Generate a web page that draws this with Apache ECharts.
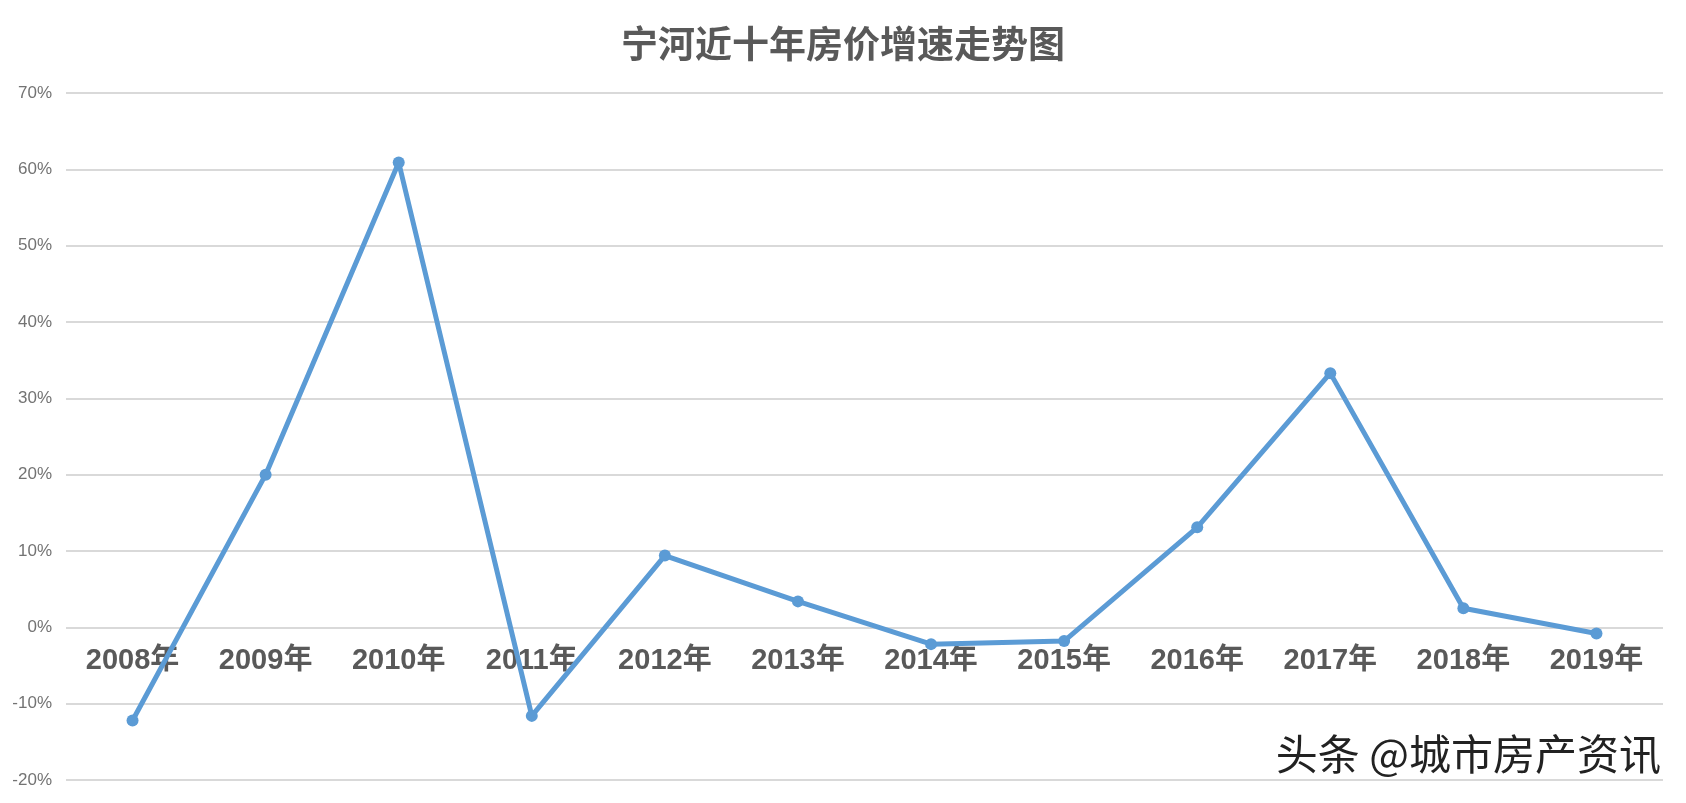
<!DOCTYPE html>
<html>
<head>
<meta charset="utf-8">
<script src="https://cdn.jsdelivr.net/npm/echarts@6/dist/echarts.min.js"></script>
<style>
html,body{margin:0;padding:0;background:#fff;}
#chart{width:1686px;height:803px;}
</style>
</head>
<body>
<div id="chart"></div>
<script>
const titleText = '宁河近十年房价增速走势图';
const categories = ['2008年','2009年','2010年','2011年','2012年','2013年','2014年','2015年','2016年','2017年','2018年','2019年'];
const growthRate = [-12.2, 20.0, 60.9, -11.6, 9.4, 3.4, -2.2, -1.8, 13.1, 33.3, 2.5, -0.8];
const yMin = -20, yMax = 70, yStep = 10;
const watermark = '头条 @城市房产资讯';

const W = 1686, H = 803;
const gridTop = 93, gridBottom = 23;
const gridH = H - gridTop - gridBottom;
// move the category axis up to the 0% line
const zeroOffset = -(0 - yMin) / (yMax - yMin) * gridH;

const chart = echarts.init(document.getElementById('chart'));
chart.setOption({
  backgroundColor: '#fff',
  animation: false,
  title: {
    text: titleText,
    left: 'center',
    top: 20,
    textStyle: {
      fontFamily: '"Noto Sans CJK SC", sans-serif',
      fontSize: 37,
      fontWeight: 'bold',
      color: '#595959'
    }
  },
  grid: { left: 66, right: 23, top: gridTop, bottom: gridBottom, containLabel: false, outerBoundsMode: 'none' },
  xAxis: {
    type: 'category',
    data: categories,
    boundaryGap: true,
    offset: zeroOffset,
    axisLine: { show: false, onZero: false },
    axisTick: { show: false },
    axisLabel: {
      margin: 19,
      fontSize: 29,
      fontWeight: 'bold',
      color: '#595959',
      fontFamily: '"Liberation Sans", "Noto Sans CJK SC", sans-serif'
    },
    splitLine: { show: false }
  },
  yAxis: {
    type: 'value',
    min: yMin,
    max: yMax,
    interval: yStep,
    axisLine: { show: false },
    axisTick: { show: false },
    axisLabel: {
      formatter: '{value}%',
      margin: 14,
      fontSize: 17,
      color: '#737373',
      fontFamily: '"Liberation Sans Narrow", "Liberation Sans", sans-serif'
    },
    splitLine: { lineStyle: { color: '#d9d9d9', width: 2 } }
  },
  series: [{
    type: 'line',
    data: growthRate,
    symbol: 'circle',
    symbolSize: 12,
    z: 5,
    lineStyle: { color: '#5b9bd5', width: 5 },
    itemStyle: { color: '#5b9bd5' }
  }],
  graphic: [{
    type: 'text',
    right: 24,
    top: 732,
    style: {
      text: watermark,
      fontSize: 42,
      fill: '#222222',
      fontFamily: '"Noto Sans CJK SC", sans-serif',
      stroke: '#ffffff',
      lineWidth: 2
    }
  }]
});
</script>
</body>
</html>
